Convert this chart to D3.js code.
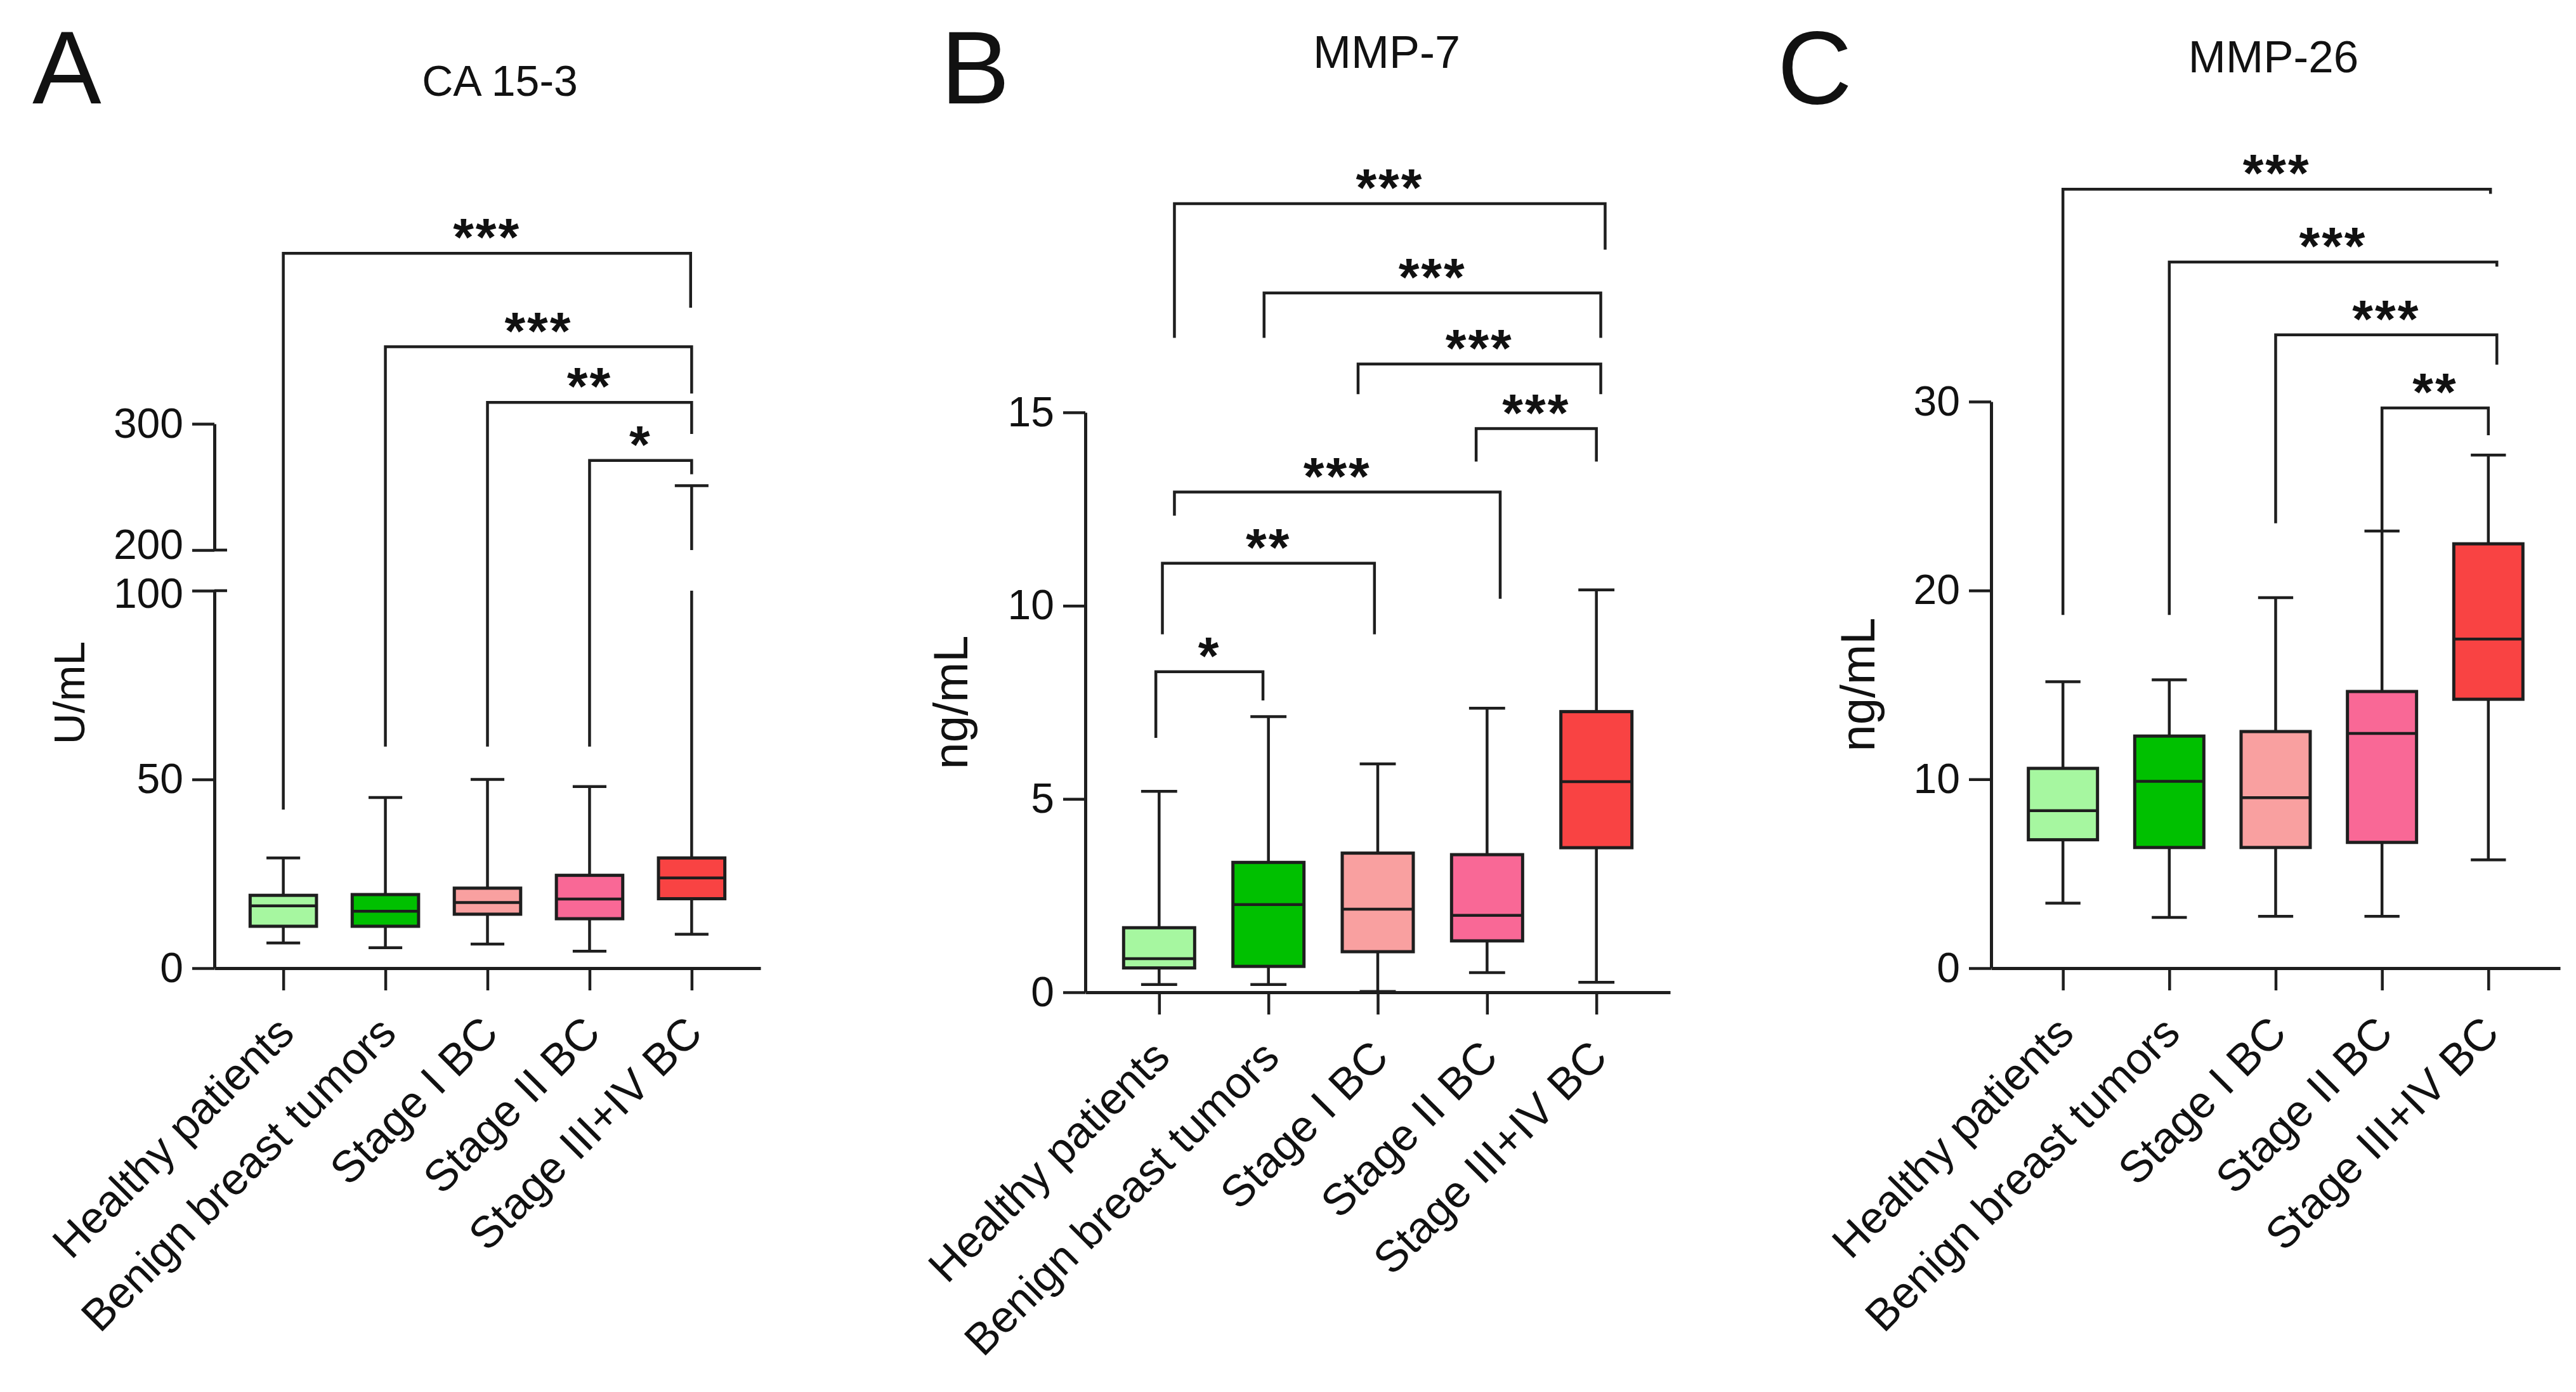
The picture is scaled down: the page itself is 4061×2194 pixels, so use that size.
<!DOCTYPE html>
<meta charset="utf-8">
<style>
    body { margin: 0; background: #fff; }
    text { font-family: "Liberation Sans", Arial, sans-serif; fill: #111; }
    .axis path, .axis line { stroke: #1e1e1e; }
    .axis text { font-size: 66px; }
    .xaxis text { font-size: 70px; }
    .box { stroke: #1e1e1e; stroke-width: 5; }
    .wl { stroke: #1e1e1e; stroke-width: 4.5; fill: none; }
    .sig { font-weight: bold; font-size: 84px; letter-spacing: 3px; }
</style>
<svg width="4061" height="2194"></svg>
<script src="https://d3js.org/d3.v7.min.js"></script>
<script>
    var categories = ['Healthy patients', 'Benign breast tumors', 'Stage I BC', 'Stage II BC', 'Stage III+IV BC'];
    var boxColors = ['#a6f7a0', '#00c000', '#f9a0a0', '#f96896', '#f94343'];

    // each group: [min, Q1, median, Q3, max]
    var ca153 = [[6.7, 11.1, 16.5, 19.3, 29.2], [5.4, 11.1, 15.1, 19.5, 45.2], [6.4, 14.3, 17.4, 21.2, 50.0], [4.5, 13.1, 18.3, 24.6, 48.1], [9.0, 18.4, 23.9, 29.2, 251]];
    var mmp7 = [[0.2, 0.63, 0.87, 1.67, 5.2], [0.2, 0.67, 2.27, 3.36, 7.13], [0.02, 1.05, 2.15, 3.6, 5.91], [0.51, 1.33, 1.99, 3.56, 7.35], [0.26, 3.74, 5.45, 7.26, 10.41]];
    var mmp26 = [[3.44, 6.8, 8.34, 10.58, 15.17], [2.69, 6.39, 9.89, 12.29, 15.27], [2.75, 6.39, 9.03, 12.53, 19.62], [2.75, 6.66, 12.43, 14.65, 23.15], [5.74, 14.24, 17.43, 22.47, 27.17]];

    // significance brackets: [from group, to group, bar height, left leg end, right leg end, label]
    var ca153Sig = [[0, 3.99, 435, 42, 392, '***'], [1, 4, 361, 58.7, 324, '***'], [2, 4, 317, 58.7, 292, '**'], [3, 4, 271, 58.7, 260, '*']];
    var mmp7Sig = [[0.14, 4.08, 20.4, 16.93, 19.21, '***'], [0.96, 4.04, 18.09, 16.93, 16.93, '***'], [1.82, 4.04, 16.25, 15.47, 15.47, '***'],
        [2.9, 4.0, 14.58, 13.73, 13.73, '***'], [0.14, 3.12, 12.94, 12.33, 10.18, '***'], [0.03, 1.97, 11.1, 9.26, 9.26, '**'], [-0.03, 0.95, 8.29, 6.58, 7.55, '*']];
    var mmp26Sig = [[0, 4.02, 41.25, 18.7, 41.0, '***'], [1, 4.08, 37.39, 18.7, 37.15, '***'], [2, 4.08, 33.54, 23.56, 31.96, '***'], [3, 4, 29.66, 23.15, 28.22, '**']];

    var ca153TicksLow = [0, 50, 100], ca153TicksHigh = [200, 300];
    var mmp7Ticks = [0, 5, 10, 15];
    var mmp26Ticks = [0, 10, 20, 30];

    var svg = d3.select('svg');

    // CA 15-3 has a broken axis: 0-100 below, 200-300 above
    var caLow = d3.scaleLinear().domain([0, 100]).range([1526, 931]),
        caHigh = d3.scaleLinear().domain([200, 300]).range([867, 668]);

    var panels = [
        {
            letter: 'A', letterX: 51, title: 'CA 15-3', titleX: 788, titleY: 151, titleSize: 68,
            unit: 'U/mL', unitX: 133, unitY: 1092, unitSize: 68,
            axisX: 338, axisEnd: 1199, baseY: 1526,
            data: ca153, sig: ca153Sig,
            y: function(v) { return v <= 150 ? caLow(v) : caHigh(v); },
            yAxes: [{ scale: caLow, ticks: ca153TicksLow }, { scale: caHigh, ticks: ca153TicksHigh }],
            gap: [100, 200]
        },
        {
            letter: 'B', letterX: 1483, title: 'MMP-7', titleX: 2186, titleY: 107, titleSize: 72,
            unit: 'ng/mL', unitX: 1525, unitY: 1107, unitSize: 76,
            axisX: 1711, axisEnd: 2633, baseY: 1564,
            data: mmp7, sig: mmp7Sig,
            yScale: d3.scaleLinear().domain([0, 15]).range([1564, 650]), ticks: mmp7Ticks
        },
        {
            letter: 'C', letterX: 2802, title: 'MMP-26', titleX: 3584, titleY: 114, titleSize: 71,
            unit: 'ng/mL', unitX: 2955, unitY: 1079, unitSize: 76,
            axisX: 3139, axisEnd: 4036, baseY: 1526,
            data: mmp26, sig: mmp26Sig,
            yScale: d3.scaleLinear().domain([0, 30]).range([1526, 633]), ticks: mmp26Ticks
        }
    ];

    panels.forEach(function(p) {
        if (p.yScale) {
            p.y = p.yScale;
            p.yAxes = [{ scale: p.yScale, ticks: p.ticks }];
        }
        var g = svg.append('g');
        var y = p.y;
        var x = d3.scalePoint().domain(categories).range([p.axisX, p.axisEnd]).padding(0.675);
        var step = x.step();
        var xi = function(i) { return x(categories[0]) + i * step; };
        var bw = step * 0.65, cw = step * 0.33;

        // split a vertical run around the axis break
        function spans(a, b) {
            if (p.gap && b > p.gap[1] && a < p.gap[0]) return [[a, p.gap[0]], [p.gap[1], b]];
            return [[a, b]];
        }

        // panel letter, title, unit
        g.append('text').attr('x', p.letterX).attr('y', 163).attr('font-size', 163).text(p.letter);
        g.append('text').attr('x', p.titleX).attr('y', p.titleY).attr('font-size', p.titleSize)
            .attr('text-anchor', 'middle').text(p.title);
        g.append('text').attr('transform', 'translate(' + p.unitX + ',' + p.unitY + ') rotate(-90)')
            .attr('font-size', p.unitSize).attr('text-anchor', 'middle').text(p.unit);

        // y axis (one or two segments)
        p.yAxes.forEach(function(a) {
            g.append('g').attr('class', 'axis')
                .attr('transform', 'translate(' + p.axisX + ',0)')
                .call(d3.axisLeft(a.scale).tickValues(a.ticks).tickSize(35).tickSizeOuter(0).tickPadding(14))
                .call(s => s.select('.domain').attr('stroke-width', 5))
                .call(s => s.selectAll('.tick line').attr('stroke-width', 4.5))
                .call(s => s.selectAll('.tick text').attr('dy', d => p.gap && d === p.gap[1] ? '0.2em' : p.gap && d === p.gap[0] ? '0.4em' : '0.32em'));
        });
        if (p.gap) {
            g.selectAll('.brk').data(p.gap).enter().append('line')
                .attr('class', 'wl')
                .attr('x1', p.axisX).attr('x2', p.axisX + 20)
                .attr('y1', d => y(d)).attr('y2', d => y(d));
        }

        // x axis
        g.append('g').attr('class', 'axis xaxis')
            .attr('transform', 'translate(0,' + p.baseY + ')')
            .call(d3.axisBottom(x).tickSize(35).tickSizeOuter(0))
            .call(s => s.select('.domain').attr('stroke-width', 5))
            .call(s => s.selectAll('.tick line').attr('stroke-width', 4.5))
            .call(s => s.selectAll('.tick text').attr('x', 0).attr('y', 0).attr('dy', 0)
                .attr('transform', 'translate(20,106) rotate(-45)').style('text-anchor', 'end'));

        // boxes and whiskers
        p.data.forEach(function(d, i) {
            var cx = xi(i);
            var runs = spans(d[0], d[1]).concat(spans(d[3], d[4]));
            runs.forEach(function(r) {
                g.append('line').attr('class', 'wl')
                    .attr('x1', cx).attr('x2', cx).attr('y1', y(r[0])).attr('y2', y(r[1]));
            });
            [d[0], d[4]].forEach(function(v) {
                g.append('line').attr('class', 'wl').attr('stroke-width', 5)
                    .attr('x1', cx - cw / 2).attr('x2', cx + cw / 2).attr('y1', y(v)).attr('y2', y(v));
            });
            g.append('rect').attr('class', 'box')
                .attr('x', cx - bw / 2).attr('width', bw)
                .attr('y', y(d[3])).attr('height', y(d[1]) - y(d[3]))
                .attr('fill', boxColors[i]);
            g.append('line').attr('class', 'wl')
                .attr('x1', cx - bw / 2).attr('x2', cx + bw / 2).attr('y1', y(d[2])).attr('y2', y(d[2]));
        });

        // significance brackets
        p.sig.forEach(function(s) {
            var x1 = xi(s[0]), x2 = xi(s[1]);
            g.append('path').attr('class', 'wl')
                .attr('d', 'M' + x1 + ',' + y(s[3]) + 'V' + y(s[2]) + 'H' + x2 + 'V' + y(s[4]));
            g.append('text').attr('class', 'sig')
                .attr('x', (x1 + x2) / 2).attr('y', y(s[2]) + 4)
                .attr('text-anchor', 'middle').text(s[5]);
        });
    });
</script>
